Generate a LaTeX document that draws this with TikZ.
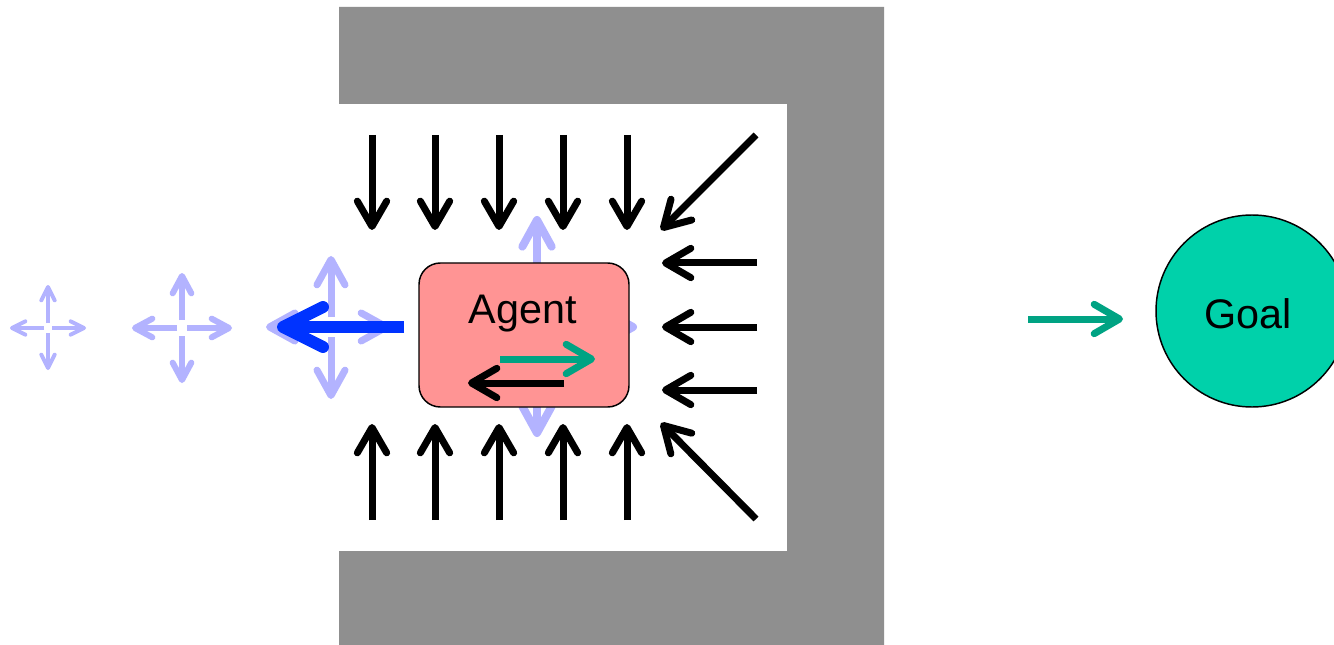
\documentclass[tikz,border=0pt]{standalone}
\usepackage{fontspec}
\setmainfont{Liberation Sans}
\usetikzlibrary{arrows.meta,calc}
\definecolor{wallgray}{HTML}{8F8F8F}
\definecolor{ghost}{HTML}{B3B3FF}
\definecolor{push}{HTML}{0033FF}
\definecolor{pull}{HTML}{00A383}
\definecolor{agentfill}{HTML}{FF9494}
\definecolor{goalfill}{HTML}{00D1AA}
\tikzset{
  force/.style={line width=5.25pt,-{Straight Barb[length=19pt,width=22pt,round]}},
  ghostA/.style={ghost,line width=3pt,-{Straight Barb[length=10pt,width=10pt,round]}},
  ghostB/.style={ghost,line width=4.5pt,-{Straight Barb[length=13pt,width=14pt,round]}},
  ghostC/.style={ghost,line width=5.25pt,-{Straight Barb[length=19pt,width=21pt,round]}},
  ghostD/.style={ghost,line width=6pt,-{Straight Barb[length=20pt,width=22pt,round]}},
  escape/.style={push,line width=9pt,-{Straight Barb[length=30pt,width=30pt,round]}},
  bigtext/.style={font=\fontsize{31}{36}\selectfont,inner sep=0pt,anchor=base},
}
\begin{document}
\begin{tikzpicture}[x=0.75pt,y=-0.75pt]
\clip (0,0) rectangle (1334,645);
\fill[white] (0,0) rectangle (1334,645);

% U-shaped wall around the agent
\fill[wallgray] (339,7) -- (884,7) -- (884,645) -- (339,645) -- (339,551)
  -- (787,551) -- (787,104) -- (339,104) -- cycle;

% faint four-way action crosses
\coordinate (c1) at (48,328);
\coordinate (c2) at (182,328);
\coordinate (c3) at (331,327);
\coordinate (c4) at (537,327);
\draw[ghostA] ($(c1)+(0,-5)$) -- ($(c1)+(0,-43)$);
\draw[ghostA] ($(c1)+(0,5)$) -- ($(c1)+(0,42)$);
\draw[ghostA] ($(c1)+(-4,0)$) -- ($(c1)+(-38,0)$);
\draw[ghostA] ($(c1)+(4,0)$) -- ($(c1)+(38,0)$);
\draw[ghostB] ($(c2)+(0,-8)$) -- ($(c2)+(0,-55)$);
\draw[ghostB] ($(c2)+(0,8)$) -- ($(c2)+(0,55)$);
\draw[ghostB] ($(c2)+(-5,0)$) -- ($(c2)+(-50,0)$);
\draw[ghostB] ($(c2)+(5,0)$) -- ($(c2)+(50,0)$);
\draw[ghostC] ($(c3)+(0,-10)$) -- ($(c3)+(0,-71)$);
\draw[ghostC] ($(c3)+(0,10)$) -- ($(c3)+(0,72)$);
\draw[ghostC] ($(c3)+(-10,0)$) -- ($(c3)+(-65,0)$);
\draw[ghostC] ($(c3)+(10,0)$) -- ($(c3)+(59,0)$);
\draw[ghostD] ($(c4)+(0,-10)$) -- ($(c4)+(0,-111)$);
\draw[ghostD] ($(c4)+(0,10)$) -- ($(c4)+(0,110)$);
\draw[ghostD] ($(c4)+(-10,0)$) -- ($(c4)+(-100,0)$);
\draw[ghostD] ($(c4)+(10,0)$) -- ($(c4)+(100,0)$);

% chosen move out of the trap
\coordinate (es) at (404,327);
\coordinate (ee) at (277,327);
\draw[escape] (es) -- (ee);

% repulsive forces from the wall
\foreach \x [count=\i] in {372,435,499,563,627}{
  \coordinate (ts\i) at (\x,135);
  \coordinate (te\i) at (\x,230);
  \coordinate (bs\i) at (\x,520);
  \coordinate (be\i) at (\x,424);
  \draw[force] (ts\i) -- (te\i);
  \draw[force] (bs\i) -- (be\i);
}
\foreach \y [count=\i] in {263,327,390}{
  \coordinate (rs\i) at (757,\y);
  \coordinate (re\i) at (662,\y);
  \draw[force] (rs\i) -- (re\i);
}
\coordinate (d1s) at (756,135);
\coordinate (d1e) at (661,230);
\coordinate (d2s) at (756,519);
\coordinate (d2e) at (661,423);
\draw[force] (d1s) -- (d1e);
\draw[force] (d2s) -- (d2e);

% the agent
\node[draw=black,line width=1.1pt,fill=agentfill,rounded corners=16pt,
  minimum width=157.5pt,minimum height=108pt,inner sep=0pt] (agent) at (524,335) {};
\node[bigtext] (agentlabel) at (523,323) {Agent};
\coordinate (ga) at (500,359);
\coordinate (gb) at (595,359);
\draw[force,pull] (ga) -- (gb);
\coordinate (ka) at (564,383);
\coordinate (kb) at (468,383);
\draw[force,black] (ka) -- (kb);

% the goal
\node[circle,draw=black,line width=1.1pt,fill=goalfill,minimum size=144pt,
  inner sep=0pt] (goal) at (1252,311) {};
\node[bigtext] (goallabel) at (1248,328) {Goal};
\coordinate (pa) at (1028,319);
\coordinate (pb) at (1123,319);
\draw[force,pull] (pa) -- (pb);
\end{tikzpicture}
\end{document}
